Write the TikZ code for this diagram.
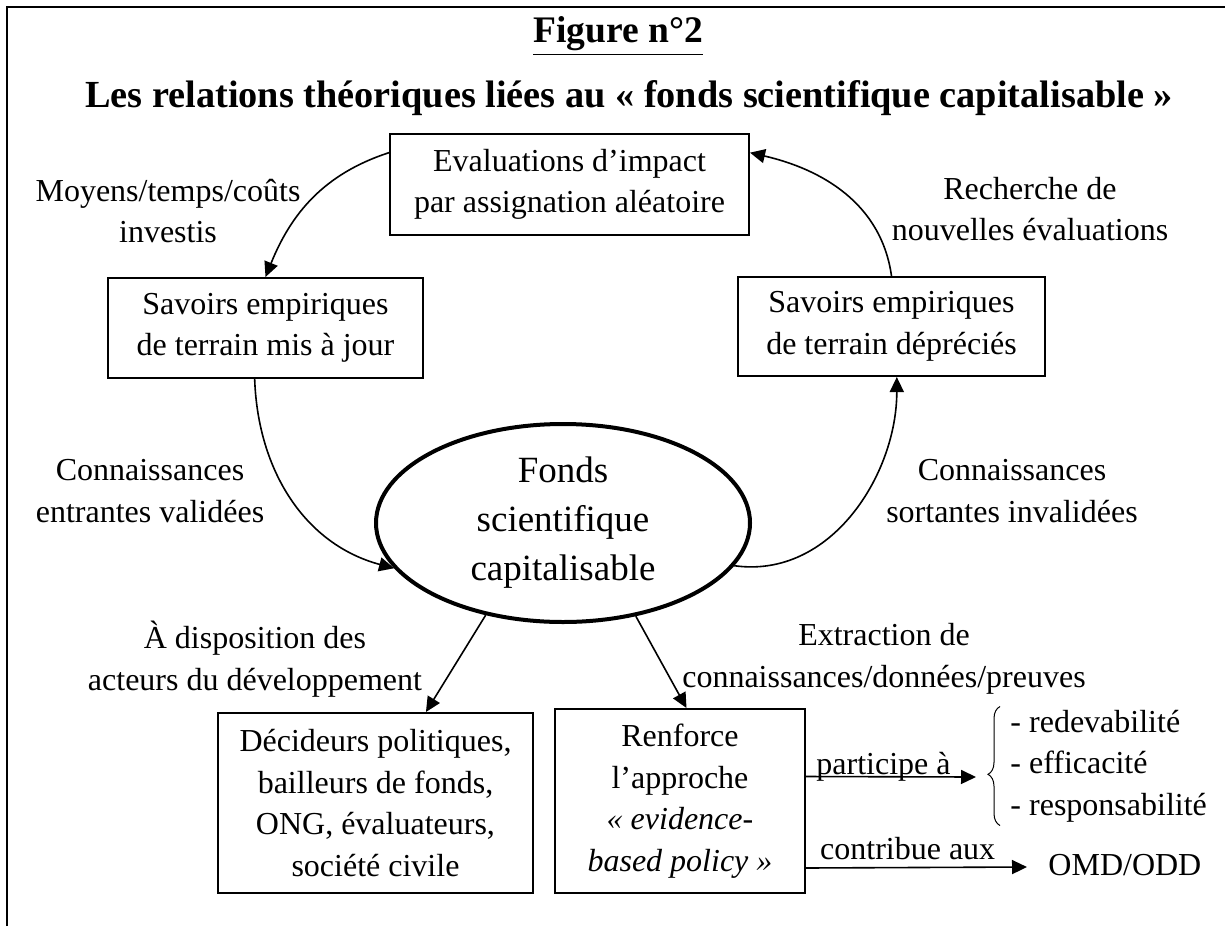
\documentclass[tikz,border=0pt]{standalone}
\usepackage{fontspec}
\setmainfont{Liberation Serif}
\usetikzlibrary{arrows.meta, shapes.geometric, decorations.pathreplacing}

\begin{document}
\begin{tikzpicture}[x=0.5pt, y=0.5pt, thick, >={Triangle[length=7.5pt, width=7pt]},
        main/.style = {draw, line width=1pt, rectangle, align=center, inner sep=0pt, font=\fontsize{16}{20.75}\selectfont},
        big/.style = {draw, ellipse, line width=2pt, align=center, inner sep=0pt, minimum width=187pt, minimum height=99pt, font=\fontsize{18.5}{24.5}\selectfont},
        lbl/.style = {align=center, font=\fontsize{16}{20.75}\selectfont},
        head/.style = {font=\fontsize{18.75}{22}\selectfont\bfseries}]

            \useasboundingbox (0,0) rectangle (1225,-926);
            \draw[line width=0.9pt] (7,-926) -- (7,-7) -- (1225,-7);

            \node[head] (fig) at (618,-36) {\underline{Figure n°2}};
            \node[head, font=\fontsize{19.15}{22}\selectfont\bfseries] (sub) at (629,-98) {Les relations théoriques liées au « fonds scientifique capitalisable »};

            \node[main, minimum width=179.5pt, minimum height=50.5pt] (eval) at (569.5,-184.5) {Evaluations d’impact\\par assignation aléatoire};
            \node[main, minimum width=157.5pt, minimum height=50pt] (left) at (265.5,-328) {Savoirs empiriques\\de terrain mis à jour};
            \node[main, minimum width=153.5pt, minimum height=49.5pt] (right) at (891.5,-326.5) {Savoirs empiriques\\de terrain dépréciés};
            \node[big] (fonds) at (563,-523) {Fonds\\scientifique\\capitalisable};
            \node[main, minimum width=157.5pt, minimum height=90pt] (dec) at (375.5,-803) {Décideurs politiques,\\bailleurs de fonds,\\ONG, évaluateurs,\\société civile};
            \node[main, minimum width=125pt, minimum height=92pt] (ren) at (680,-801) {Renforce\\l’approche\\\textit{« evidence-}\\\textit{based policy »}};

            \node[lbl] (cost) at (168,-211) {Moyens/temps/coûts\\investis};
            \node[lbl] (search) at (1030,-209) {Recherche de\\nouvelles évaluations};
            \node[lbl] (valid) at (150,-491) {Connaissances\\entrantes validées};
            \node[lbl] (invalid) at (1012,-491) {Connaissances\\sortantes invalidées};
            \node[lbl] (dispo) at (255,-659) {À disposition des\\acteurs du développement};
            \node[lbl] (extract) at (884,-659) {Extraction de\\connaissances/données/preuves};
            \node[lbl, align=left, anchor=west] (goals) at (1003,-766) {- redevabilité\\- efficacité\\- responsabilité};
            \node[lbl, anchor=west] (omd) at (1041,-865) {OMD/ODD};
            \coordinate (pa) at (976,-777);
            \coordinate (cb) at (1027,-867);

            \draw[->] (eval.170) to[out=198, in=68] (left.north);
            \draw[->] (right.north) to[out=98, in=-13] (eval.10);
            \draw[->] (left.258) to[out=-88, in=165] (fonds.195);
            \draw[->] (fonds.-14) to[out=-8, in=-90] (right.-84);
            \draw[->] (fonds.-130) -- (dec.61);
            \draw[->] (fonds.-52) -- (ren.86);
            \draw[->] (ren.11) -- node[pos=0.456, anchor=base, yshift=1pt, lbl] {participe à} (pa);
            \draw[->] (ren.-28) -- node[pos=0.46, above, lbl] {contribue aux} (cb);
            \draw[line width=0.5pt, decorate, decoration={brace, amplitude=6pt, aspect=0.43}] ([xshift=-1.5pt, yshift=2pt]goals.south west) -- ([xshift=-1.5pt, yshift=-2pt]goals.north west);

\end{tikzpicture}
\end{document}
